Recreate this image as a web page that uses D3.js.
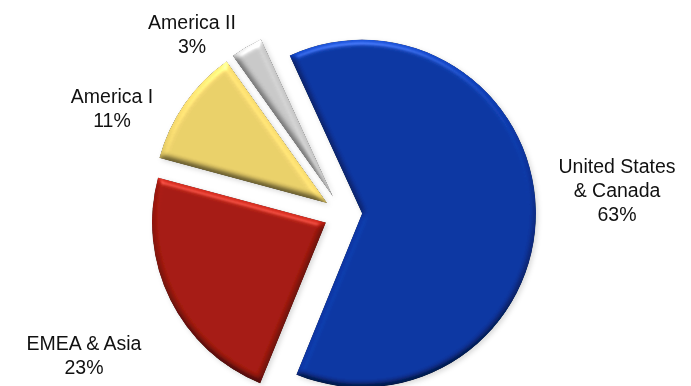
<!DOCTYPE html>
<html>
<head>
<meta charset="utf-8">
<script src="https://cdn.jsdelivr.net/npm/d3@7"></script>
<style>
  html, body { margin: 0; padding: 0; background: #ffffff; }
  svg { display: block; }
  text { font-family: "Liberation Sans", Arial, Helvetica, sans-serif; fill: #111; }
</style>
</head>
<body>
<svg id="chart" width="691" height="386"></svg>
<script>
// Revenue share by region
const categories = ["United States & Canada", "EMEA & Asia", "America I", "America II"];
const shares = [63, 23, 11, 3];
const labelLines = [["United States", "& Canada"], ["EMEA & Asia"], ["America I"], ["America II"]];
const sliceColors = ["#0A35A0", "#A3190F", "#E8CE68", "#C6C6C6"];
// label block anchors: centre x, first baseline y
const labelAnchors = [[617, 173], [84, 350], [112, 103], [192, 29]];

const width = 691, height = 386;
const cx = 343, cy = 214, radius = 174, explode = 19;
const startDeg = -24.6;
const fontSize = 19.5, lineGap = 24;

const svg = d3.select("#chart");
const defs = svg.append("defs");

// Rounded bevel: light from above over a blurred alpha bump
const lightAzimuth = 268;
const bevel = defs.append("filter")
  .attr("id", "bevel")
  .attr("x", "-5%").attr("y", "-5%").attr("width", "110%").attr("height", "110%")
  .attr("color-interpolation-filters", "sRGB");
bevel.append("feGaussianBlur").attr("in", "SourceAlpha").attr("stdDeviation", 3.4).attr("result", "bump");
bevel.append("feDiffuseLighting")
  .attr("in", "bump").attr("surfaceScale", 3.6).attr("diffuseConstant", 0.707)
  .attr("lighting-color", "#ffffff").attr("result", "diff")
  .append("feDistantLight").attr("azimuth", lightAzimuth).attr("elevation", 45);
// flat areas keep the base colour; tilted rims brighten or darken
bevel.append("feComposite")
  .attr("in", "SourceGraphic").attr("in2", "diff").attr("operator", "arithmetic")
  .attr("k1", 1.2).attr("k2", 0.4).attr("k3", 0).attr("k4", 0).attr("result", "shaded");
bevel.append("feSpecularLighting")
  .attr("in", "bump").attr("surfaceScale", 3.6).attr("specularConstant", 0.4)
  .attr("specularExponent", 28).attr("lighting-color", "#ffffff").attr("result", "spec")
  .append("feDistantLight").attr("azimuth", lightAzimuth).attr("elevation", 40);
bevel.append("feComposite").attr("in", "spec").attr("in2", "SourceAlpha").attr("operator", "in").attr("result", "specIn");
bevel.append("feComposite")
  .attr("in", "shaded").attr("in2", "specIn").attr("operator", "arithmetic")
  .attr("k1", 0).attr("k2", 1).attr("k3", 0.5).attr("k4", 0).attr("result", "lit");
bevel.append("feComposite").attr("in", "lit").attr("in2", "SourceAlpha").attr("operator", "in");

// Soft outer shadow behind the slices
const shadow = defs.append("filter")
  .attr("id", "shadow")
  .attr("x", "-10%").attr("y", "-10%").attr("width", "120%").attr("height", "120%");
shadow.append("feDropShadow")
  .attr("dx", 2).attr("dy", 2).attr("stdDeviation", 2.5)
  .attr("flood-color", "#000").attr("flood-opacity", 0.15);

const rad = d => d * Math.PI / 180;
const pie = d3.pie()
  .sort(null)
  .value(d => d)
  .startAngle(rad(startDeg))
  .endAngle(rad(startDeg) + 2 * Math.PI);

const arc = d3.arc().innerRadius(0).outerRadius(radius);
const arcs = pie(shares);

const color = d3.scaleOrdinal().domain(categories).range(sliceColors);

const pieG = svg.append("g")
  .attr("transform", `translate(${cx},${cy})`)
  .attr("filter", "url(#shadow)");

pieG.selectAll("path.slice")
  .data(arcs)
  .join("path")
  .attr("class", "slice")
  .attr("transform", d => {
    const mid = (d.startAngle + d.endAngle) / 2;
    return `translate(${explode * Math.sin(mid)},${-explode * Math.cos(mid)})`;
  })
  .attr("d", arc)
  .attr("fill", (d, i) => color(categories[i]))
  .attr("filter", "url(#bevel)");

// Category and percentage labels
const labels = svg.append("g").attr("font-size", fontSize).attr("text-anchor", "middle");
arcs.forEach((d, i) => {
  const [lx, ly] = labelAnchors[i];
  const lines = labelLines[i].concat([`${shares[i]}%`]);
  const t = labels.append("text").attr("x", lx).attr("y", ly);
  lines.forEach((s, k) => {
    t.append("tspan").attr("x", lx).attr("y", ly + k * lineGap).text(s);
  });
});
</script>
</body>
</html>
